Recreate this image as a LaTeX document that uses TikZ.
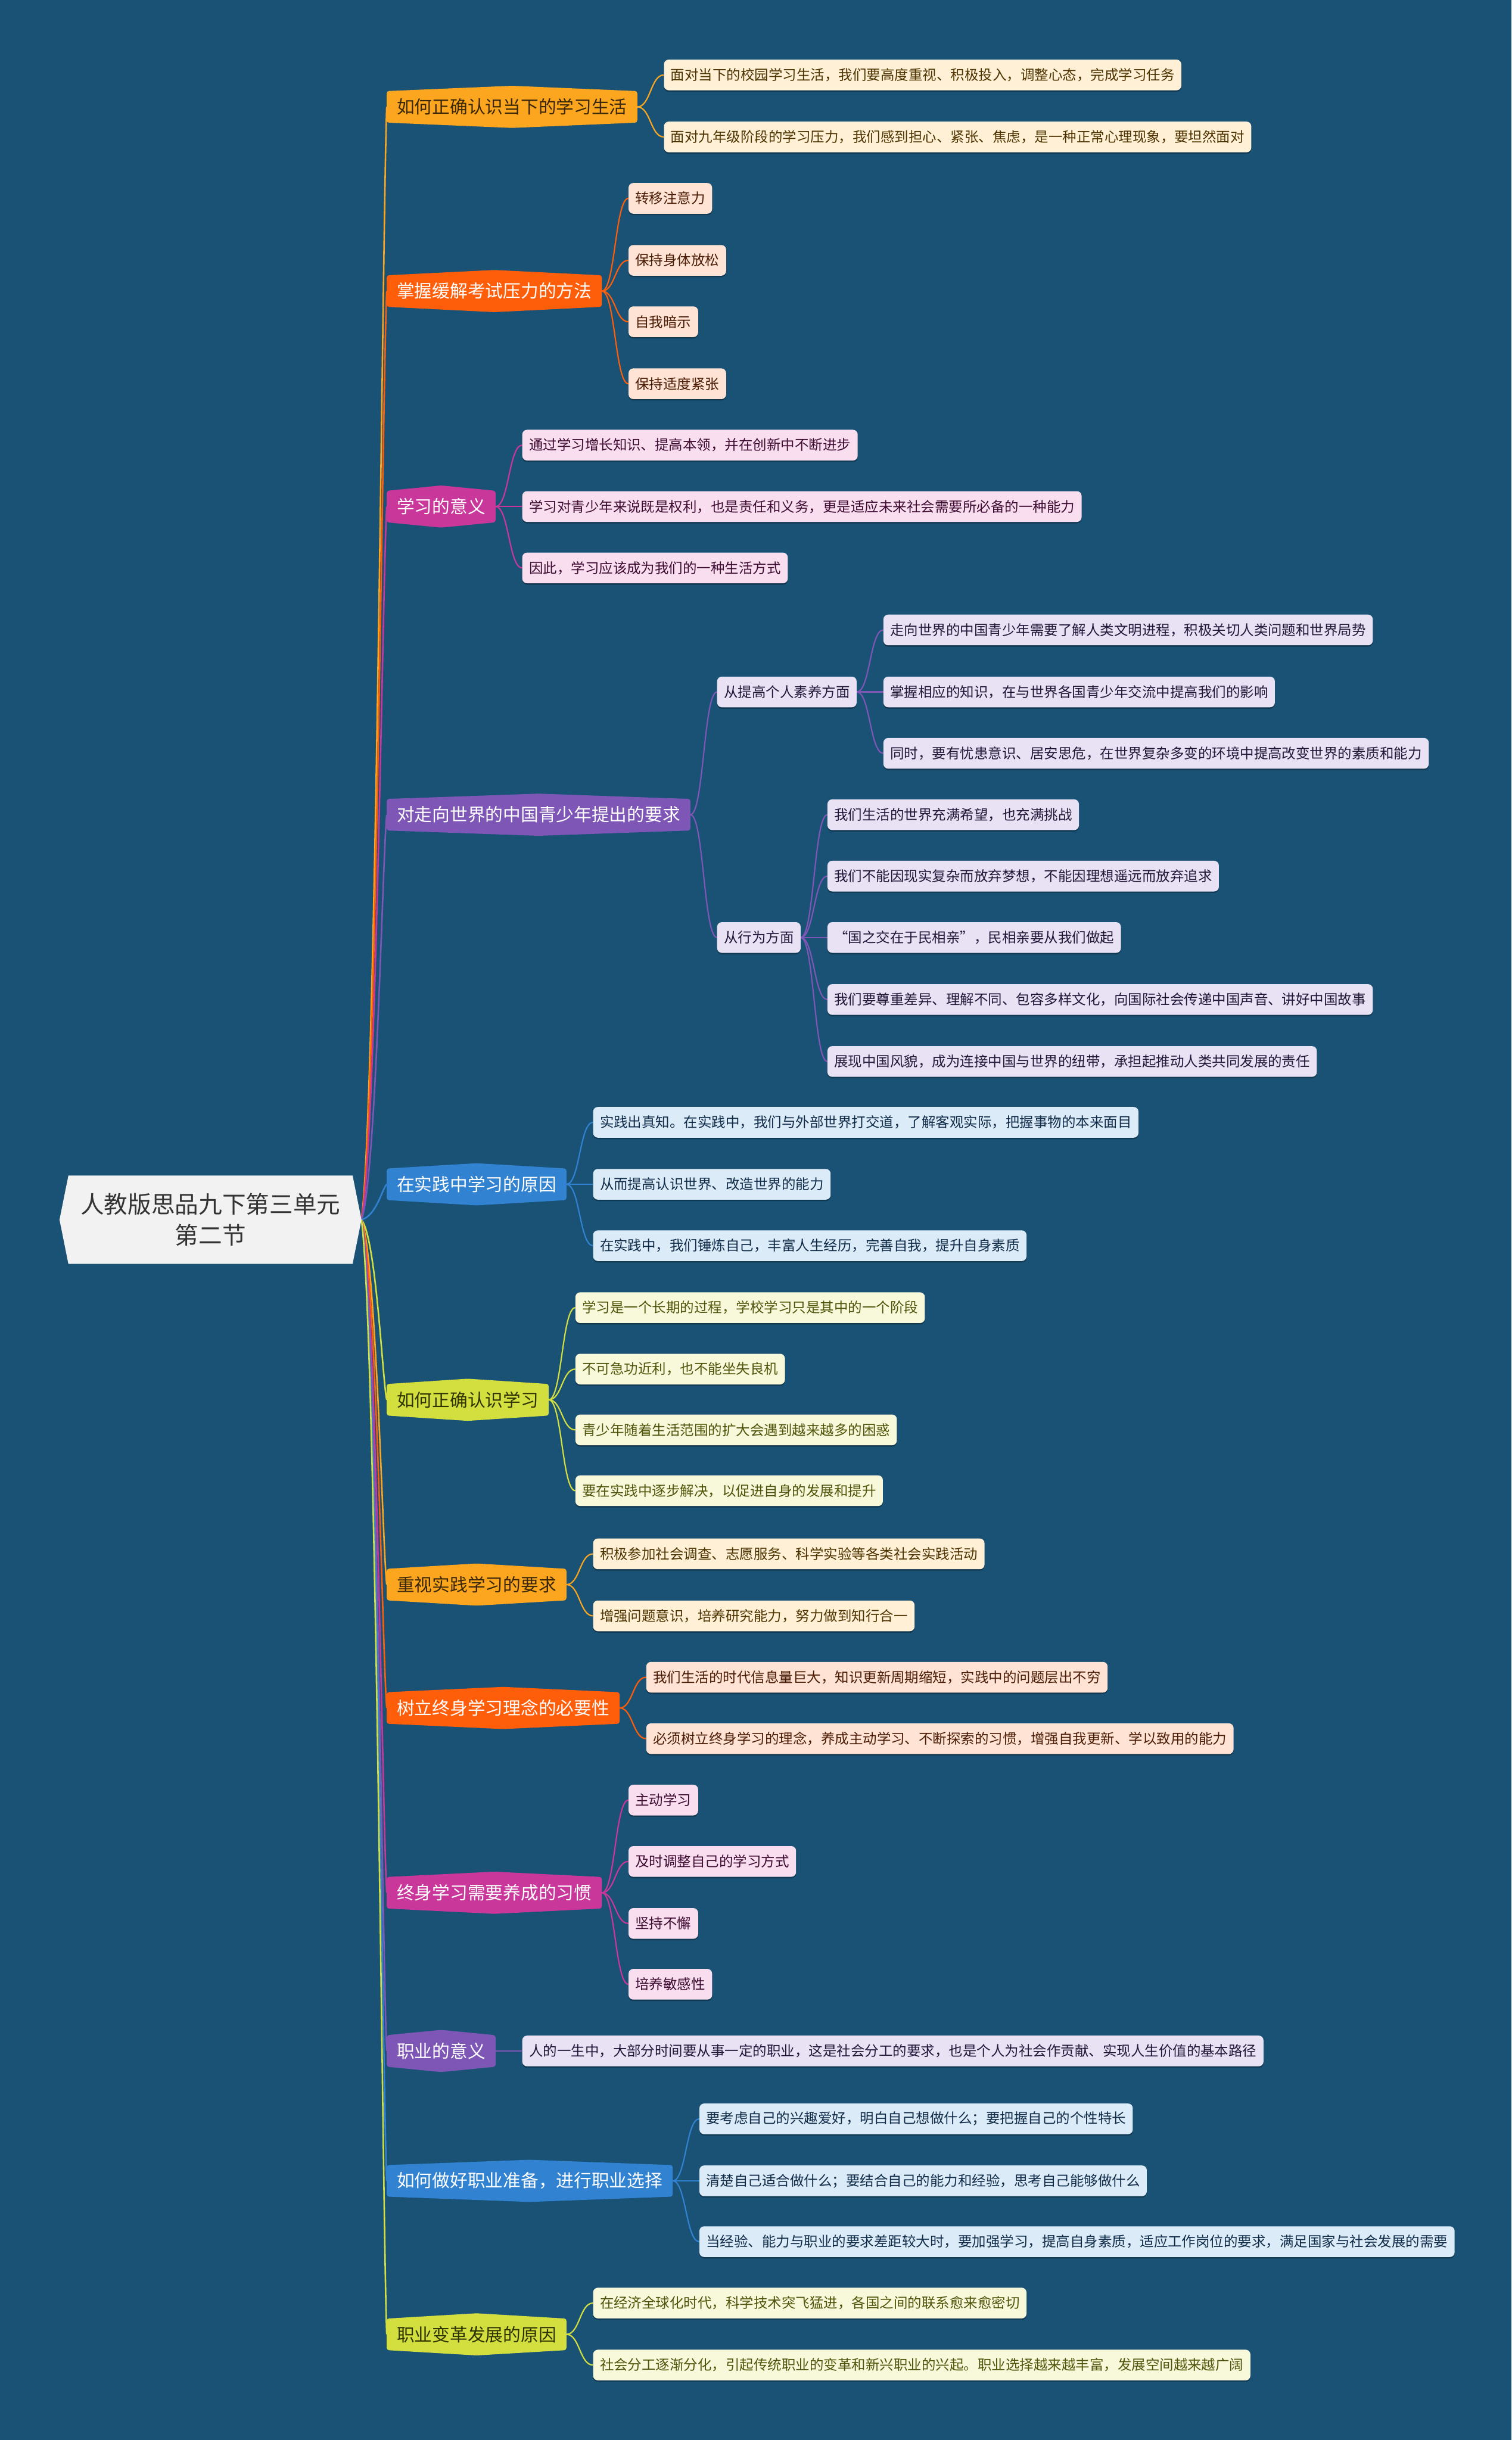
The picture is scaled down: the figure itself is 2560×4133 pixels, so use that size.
\documentclass[tikz,border=0pt]{standalone}
\usepackage{fontspec}
\setmainfont{Noto Sans CJK SC}
\usetikzlibrary{calc,shadows}
\pgfdeclarelayer{bg}
\pgfdeclarelayer{shp}
\pgfsetlayers{bg,shp,main}
\definecolor{bgc}{HTML}{1A5276}
\definecolor{cOr}{HTML}{FBA61E}
\definecolor{cRd}{HTML}{FE5D0A}
\definecolor{cMg}{HTML}{C9379B}
\definecolor{cPu}{HTML}{7E56B6}
\definecolor{cBl}{HTML}{3182D0}
\definecolor{cYg}{HTML}{D3DF3E}
\definecolor{fOr}{HTML}{FFF0D6}
\definecolor{fRd}{HTML}{FFE3D4}
\definecolor{fMg}{HTML}{F8DEEF}
\definecolor{fPu}{HTML}{E8E2F4}
\definecolor{fBl}{HTML}{DCEBF8}
\definecolor{fYg}{HTML}{F8F9DA}
\definecolor{tOr}{HTML}{4D3300}
\definecolor{tRd}{HTML}{4A1C05}
\definecolor{tMg}{HTML}{3E0B31}
\definecolor{tPu}{HTML}{221638}
\definecolor{tBl}{HTML}{0F2B47}
\definecolor{tYg}{HTML}{50540A}
\definecolor{mOr}{HTML}{3A2708}
\definecolor{mYg}{HTML}{2E3300}
\definecolor{rootc}{HTML}{F2F2F2}
\definecolor{roott}{HTML}{333333}

\newcommand\mhex[2]{%
  \begin{pgfonlayer}{shp}
  \fill[#2, rounded corners=4pt] (#1.north west) -- ($(#1.north)+(0,-9)$) -- (#1.north east)
     -- (#1.south east) -- ($(#1.south)+(0,9)$) -- (#1.south west) -- cycle;
  \end{pgfonlayer}}
\newcommand\lnk[3]{\draw[#3, line width=2.2pt] let \p1=(#1.east), \p2=(#2.west) in
  (\p1) .. controls ({0.5*\x1+0.5*\x2},\y1) and ({0.5*\x1+0.5*\x2},\y2) .. (\p2);}
\newcommand\rlnk[2]{\draw[#2, line width=2.6pt] let \p1=(root.east), \p2=(#1.west) in
  (\p1) .. controls ({\x1+25pt},{\y1+0.1*(\y2-\y1)}) and ({\x2-7pt},{\y2-0.1*(\y2-\y1)}) .. (\p2);}

\begin{document}
\begin{tikzpicture}[x=1pt,y=-1pt,
  mainbox/.style={anchor=west, inner xsep=17pt, inner ysep=0pt, minimum height=53pt,
     font=\fontsize{30pt}{36pt}\selectfont},
  leafbox/.style 2 args={anchor=west, fill=#1, text=#2, rounded corners=8pt,
     inner xsep=11.5pt, inner ysep=0pt, minimum height=52pt, xshift=45pt,
     font=\fontsize{23.7pt}{28pt}\selectfont,
     drop shadow={shadow xshift=0pt, shadow yshift=-2.5pt, opacity=0.3, fill=black}},
  lOr/.style={leafbox={fOr}{tOr}},
  lRd/.style={leafbox={fRd}{tRd}},
  lMg/.style={leafbox={fMg}{tMg}},
  lPu/.style={leafbox={fPu}{tPu}},
  lBl/.style={leafbox={fBl}{tBl}},
  lYg/.style={leafbox={fYg}{tYg}}]

\begin{pgfonlayer}{bg}
\fill[bgc] (0,0) rectangle (2560,4133);
\end{pgfonlayer}
\useasboundingbox (0,0) rectangle (2560,4133);

% root
\node[minimum width=511pt, minimum height=149pt, inner sep=0pt, align=center, text=roott,
  font=\fontsize{40pt}{53pt}\selectfont] (root) at (356.5,2066) {人教版思品九下第三单元\\第二节};
\begin{pgfonlayer}{shp}
\fill[rootc] (root.west) -- ([xshift=15pt]root.north west) -- ([xshift=-15pt]root.north east)
  -- (root.east) -- ([xshift=-15pt]root.south east) -- ([xshift=15pt]root.south west) -- cycle;
\end{pgfonlayer}

% main branches
\node[mainbox, text=mOr] (b1) at (655,181) {如何正确认识当下的学习生活};
\node[mainbox, text=white] (b2) at (655,493) {掌握缓解考试压力的方法};
\node[mainbox, text=white] (b3) at (655,858) {学习的意义};
\node[mainbox, text=white] (b4) at (655,1380) {对走向世界的中国青少年提出的要求};
\node[mainbox, text=white] (b5) at (655,2006) {在实践中学习的原因};
\node[mainbox, text=mYg] (b6) at (655,2371) {如何正确认识学习};
\node[mainbox, text=mOr] (b7) at (655,2684) {重视实践学习的要求};
\node[mainbox, text=white] (b8) at (655,2893) {树立终身学习理念的必要性};
\node[mainbox, text=white] (b9) at (655,3206) {终身学习需要养成的习惯};
\node[mainbox, text=white] (b10) at (655,3474) {职业的意义};
\node[mainbox, text=white] (b11) at (655,3694) {如何做好职业准备，进行职业选择};
\node[mainbox, text=mYg] (b12) at (655,3954) {职业变革发展的原因};
\mhex{b1}{cOr}\mhex{b2}{cRd}\mhex{b3}{cMg}\mhex{b4}{cPu}\mhex{b5}{cBl}\mhex{b6}{cYg}
\mhex{b7}{cOr}\mhex{b8}{cRd}\mhex{b9}{cMg}\mhex{b10}{cPu}\mhex{b11}{cBl}\mhex{b12}{cYg}

% branch 1
\node[lOr] (l1a) at (b1.east |- 0,127) {面对当下的校园学习生活，我们要高度重视、积极投入，调整心态，完成学习任务};
\node[lOr] (l1b) at (b1.east |- 0,232) {面对九年级阶段的学习压力，我们感到担心、紧张、焦虑，是一种正常心理现象，要坦然面对};
% branch 2
\node[lRd] (l2a) at (b2.east |- 0,336) {转移注意力};
\node[lRd] (l2b) at (b2.east |- 0,441) {保持身体放松};
\node[lRd] (l2c) at (b2.east |- 0,545) {自我暗示};
\node[lRd] (l2d) at (b2.east |- 0,650) {保持适度紧张};
% branch 3
\node[lMg] (l3a) at (b3.east |- 0,754) {通过学习增长知识、提高本领，并在创新中不断进步};
\node[lMg] (l3b) at (b3.east |- 0,858) {学习对青少年来说既是权利，也是责任和义务，更是适应未来社会需要所必备的一种能力};
\node[lMg] (l3c) at (b3.east |- 0,962) {因此，学习应该成为我们的一种生活方式};
% branch 4
\node[lPu] (s1) at (b4.east |- 0,1172) {从提高个人素养方面};
\node[lPu] (s2) at (b4.east |- 0,1588) {从行为方面};
\node[lPu] (l4a) at (s1.east |- 0,1067) {走向世界的中国青少年需要了解人类文明进程，积极关切人类问题和世界局势};
\node[lPu] (l4b) at (s1.east |- 0,1172) {掌握相应的知识，在与世界各国青少年交流中提高我们的影响};
\node[lPu] (l4c) at (s1.east |- 0,1276) {同时，要有忧患意识、居安思危，在世界复杂多变的环境中提高改变世界的素质和能力};
\node[lPu] (l4d) at (s2.east |- 0,1380) {我们生活的世界充满希望，也充满挑战};
\node[lPu] (l4e) at (s2.east |- 0,1484) {我们不能因现实复杂而放弃梦想，不能因理想遥远而放弃追求};
\node[lPu] (l4f) at (s2.east |- 0,1588) {“国之交在于民相亲”，民相亲要从我们做起};
\node[lPu] (l4g) at (s2.east |- 0,1693) {我们要尊重差异、理解不同、包容多样文化，向国际社会传递中国声音、讲好中国故事};
\node[lPu] (l4h) at (s2.east |- 0,1798) {展现中国风貌，成为连接中国与世界的纽带，承担起推动人类共同发展的责任};
% branch 5
\node[lBl] (l5a) at (b5.east |- 0,1901) {实践出真知。在实践中，我们与外部世界打交道，了解客观实际，把握事物的本来面目};
\node[lBl] (l5b) at (b5.east |- 0,2006) {从而提高认识世界、改造世界的能力};
\node[lBl] (l5c) at (b5.east |- 0,2110) {在实践中，我们锤炼自己，丰富人生经历，完善自我，提升自身素质};
% branch 6
\node[lYg] (l6a) at (b6.east |- 0,2215) {学习是一个长期的过程，学校学习只是其中的一个阶段};
\node[lYg] (l6b) at (b6.east |- 0,2319) {不可急功近利，也不能坐失良机};
\node[lYg] (l6c) at (b6.east |- 0,2422) {青少年随着生活范围的扩大会遇到越来越多的困惑};
\node[lYg] (l6d) at (b6.east |- 0,2525) {要在实践中逐步解决，以促进自身的发展和提升};
% branch 7
\node[lOr] (l7a) at (b7.east |- 0,2632) {积极参加社会调查、志愿服务、科学实验等各类社会实践活动};
\node[lOr] (l7b) at (b7.east |- 0,2737) {增强问题意识，培养研究能力，努力做到知行合一};
% branch 8
\node[lRd] (l8a) at (b8.east |- 0,2841) {我们生活的时代信息量巨大，知识更新周期缩短，实践中的问题层出不穷};
\node[lRd] (l8b) at (b8.east |- 0,2945) {必须树立终身学习的理念，养成主动学习、不断探索的习惯，增强自我更新、学以致用的能力};
% branch 9
\node[lMg] (l9a) at (b9.east |- 0,3049) {主动学习};
\node[lMg] (l9b) at (b9.east |- 0,3153) {及时调整自己的学习方式};
\node[lMg] (l9c) at (b9.east |- 0,3258) {坚持不懈};
\node[lMg] (l9d) at (b9.east |- 0,3361) {培养敏感性};
% branch 10
\node[lPu] (l10a) at (b10.east |- 0,3474) {人的一生中，大部分时间要从事一定的职业，这是社会分工的要求，也是个人为社会作贡献、实现人生价值的基本路径};
% branch 11
\node[lBl] (l11a) at (b11.east |- 0,3589) {要考虑自己的兴趣爱好，明白自己想做什么；要把握自己的个性特长};
\node[lBl] (l11b) at (b11.east |- 0,3694) {清楚自己适合做什么；要结合自己的能力和经验，思考自己能够做什么};
\node[lBl] (l11c) at (b11.east |- 0,3797) {当经验、能力与职业的要求差距较大时，要加强学习，提高自身素质，适应工作岗位的要求，满足国家与社会发展的需要};
% branch 12
\node[lYg] (l12a) at (b12.east |- 0,3901) {在经济全球化时代，科学技术突飞猛进，各国之间的联系愈来愈密切};
\node[lYg] (l12b) at (b12.east |- 0,4006) {社会分工逐渐分化，引起传统职业的变革和新兴职业的兴起。职业选择越来越丰富，发展空间越来越广阔};

% connectors
\begin{pgfonlayer}{bg}
\rlnk{b1}{cOr}\rlnk{b2}{cRd}\rlnk{b3}{cMg}\rlnk{b4}{cPu}\rlnk{b5}{cBl}\rlnk{b6}{cYg}
\rlnk{b7}{cOr}\rlnk{b8}{cRd}\rlnk{b9}{cMg}\rlnk{b10}{cPu}\rlnk{b11}{cBl}\rlnk{b12}{cYg}
\lnk{b1}{l1a}{cOr}\lnk{b1}{l1b}{cOr}
\lnk{b2}{l2a}{cRd}\lnk{b2}{l2b}{cRd}\lnk{b2}{l2c}{cRd}\lnk{b2}{l2d}{cRd}
\lnk{b3}{l3a}{cMg}\lnk{b3}{l3b}{cMg}\lnk{b3}{l3c}{cMg}
\lnk{b4}{s1}{cPu}\lnk{b4}{s2}{cPu}
\lnk{s1}{l4a}{cPu}\lnk{s1}{l4b}{cPu}\lnk{s1}{l4c}{cPu}
\lnk{s2}{l4d}{cPu}\lnk{s2}{l4e}{cPu}\lnk{s2}{l4f}{cPu}\lnk{s2}{l4g}{cPu}\lnk{s2}{l4h}{cPu}
\lnk{b5}{l5a}{cBl}\lnk{b5}{l5b}{cBl}\lnk{b5}{l5c}{cBl}
\lnk{b6}{l6a}{cYg}\lnk{b6}{l6b}{cYg}\lnk{b6}{l6c}{cYg}\lnk{b6}{l6d}{cYg}
\lnk{b7}{l7a}{cOr}\lnk{b7}{l7b}{cOr}
\lnk{b8}{l8a}{cRd}\lnk{b8}{l8b}{cRd}
\lnk{b9}{l9a}{cMg}\lnk{b9}{l9b}{cMg}\lnk{b9}{l9c}{cMg}\lnk{b9}{l9d}{cMg}
\lnk{b10}{l10a}{cPu}
\lnk{b11}{l11a}{cBl}\lnk{b11}{l11b}{cBl}\lnk{b11}{l11c}{cBl}
\lnk{b12}{l12a}{cYg}\lnk{b12}{l12b}{cYg}
\end{pgfonlayer}
\end{tikzpicture}
\end{document}
